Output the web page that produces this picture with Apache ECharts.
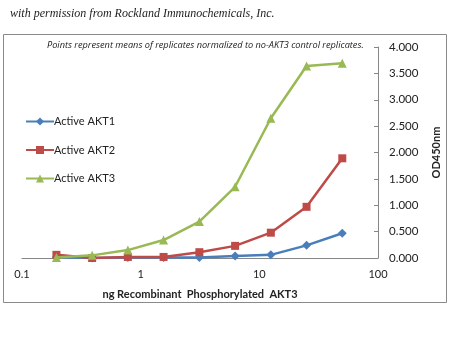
<!DOCTYPE html>
<html><head><meta charset="utf-8">
<script src="https://cdn.jsdelivr.net/npm/echarts@6/dist/echarts.min.js"></script>
<style>html,body{margin:0;padding:0;background:#fff}#c{width:450px;height:337px}</style>
</head><body><div id="c"></div>
<script>
const concentrations = [0.195, 0.39, 0.78, 1.56, 3.125, 6.25, 12.5, 25, 50];
const akt1 = [0.02, 0.00, 0.01, 0.01, 0.01, 0.04, 0.06, 0.24, 0.47];
const akt2 = [0.06, 0.00, 0.02, 0.02, 0.11, 0.23, 0.48, 0.97, 1.89];
const akt3 = [0.01, 0.05, 0.15, 0.34, 0.69, 1.35, 2.65, 3.64, 3.69];
const seriesNames = ['Active AKT1', 'Active AKT2', 'Active AKT3'];
const colors = ['#4A7EBB', '#BE4B48', '#98B954'];
const symbols = ['diamond', 'rect', 'triangle'];
const permissionText = 'with permission from Rockland Immunochemicals, Inc.';
const noteText = 'Points represent means of replicates normalized to no-AKT3 control replicates.';
const xTitle = 'ng Recombinant  Phosphorylated  AKT3';
const yTitle = 'OD450nm';

const font = 'Lato, "Open Sans", sans-serif';
const chart = echarts.init(document.getElementById('c'), null, {renderer: 'canvas'});
const all = [akt1, akt2, akt3];
chart.setOption({
  animation: false,
  grid: {left: 22, right: 68, top: 47, bottom: 79},
  graphic: [
    {type: 'rect', shape: {x: 3.5, y: 34.5, width: 443, height: 268}, style: {fill: 'none', stroke: '#8a8a8a', lineWidth: 1}, z: -1},
    {type: 'text', left: 10, top: 8, style: {text: permissionText, font: 'italic 12px "Liberation Serif", serif', fill: '#222'}},
    {type: 'text', left: 47, top: 41, style: {text: noteText, font: 'italic 9.2px "Open Sans", sans-serif', fill: '#222'}}
  ],
  legend: {
    orient: 'vertical', left: 20, top: 111, itemGap: 17.5, itemWidth: 28, itemHeight: 10,
    textStyle: {fontFamily: font, fontSize: 11, color: '#222', padding: [0, 0, 0, -5]},
    data: seriesNames
  },
  xAxis: {
    type: 'log', logBase: 10, min: 0.1, max: 100,
    name: xTitle, nameLocation: 'middle', nameGap: 31,
    nameTextStyle: {fontFamily: font, fontWeight: 'bold', fontSize: 11, color: '#222'},
    axisLine: {lineStyle: {color: '#868686'}},
    axisTick: {show: false},
    splitLine: {show: false},
    axisLabel: {fontFamily: font, fontSize: 11, color: '#222', margin: 11,
      formatter: v => String(v)}
  },
  yAxis: {
    type: 'value', position: 'right', min: 0, max: 4, interval: 0.5,
    name: yTitle, nameLocation: 'middle', nameGap: 53, nameRotate: 90,
    nameTextStyle: {fontFamily: font, fontWeight: 'bold', fontSize: 11, color: '#222'},
    axisLine: {show: true, lineStyle: {color: '#868686'}},
    axisTick: {show: true, inside: true, length: 4, lineStyle: {color: '#868686'}},
    splitLine: {show: false},
    axisLabel: {fontFamily: font, fontSize: 11.5, color: '#222', margin: 11,
      formatter: v => v.toFixed(3)}
  },
  series: seriesNames.map((n, i) => ({
    name: n, type: 'line',
    data: concentrations.map((c, j) => [c, all[i][j]]),
    symbol: symbols[i], symbolSize: i === 1 ? 8 : 9,
    lineStyle: {width: 2.5, color: colors[i]},
    itemStyle: {color: colors[i]},
    z: 2 + i
  }))
});
</script></body></html>
